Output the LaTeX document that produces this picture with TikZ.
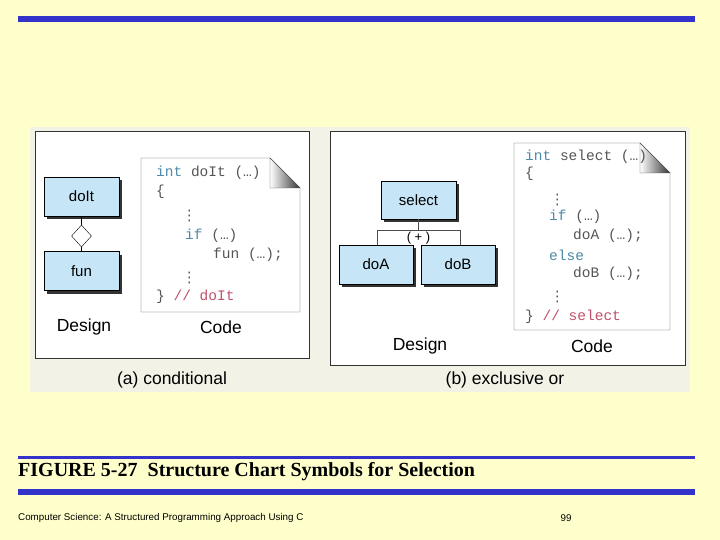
\documentclass[tikz,border=0pt]{standalone}
\usepackage{fontspec}
\setmainfont{Liberation Serif}
\setsansfont{Liberation Sans}
\setmonofont{Liberation Mono}
\newfontfamily\dvs{DejaVu Sans}
\newcommand{\vd}{{\dvs ⋮}}
\usetikzlibrary{shapes.geometric}
\definecolor{bg}{HTML}{FFFFCC}
\definecolor{bar}{HTML}{3333CC}
\definecolor{boxc}{HTML}{C6E6F8}
\definecolor{kw}{HTML}{4F8AA8}
\definecolor{cm}{HTML}{C0506A}
\definecolor{cd}{HTML}{555555}
\definecolor{pan}{HTML}{F2F2E6}
\begin{document}
\begin{tikzpicture}[x=1pt,y=-1pt,
  mod/.style={draw=black,fill=boxc,minimum width=75pt,minimum height=39pt,font=\sffamily\fontsize{15}{15}\selectfont,inner sep=0pt},
  shad/.style={fill=black!80},
  lbl/.style={font=\sffamily\fontsize{17.5}{17.5}\selectfont,inner sep=0pt},
  code/.style={font=\ttfamily\fontsize{14.5}{14.5}\selectfont,text=cd,anchor=west,inner sep=0pt},
  page/.style={draw=black!70,fill=white},
  conn/.style={draw=black!70,line width=1pt}]
\useasboundingbox (0,0) rectangle (720,540);
\fill[bg] (0,0) rectangle (720,540);
\fill[bar] (18,16) rectangle (695,22);
\fill[pan] (30,127) rectangle (690,392);
% panel a
\draw[black!80,fill=white,line width=0.8pt] (35,131) rectangle (309,358);
\fill[shad] (47,180) rectangle (122,219);
\node[mod] (doit) at (81.5,196.5) {doIt};
\fill[shad] (47,255) rectangle (122,294);
\node[mod] (fun) at (81.5,271) {fun};
\node[diamond,draw=black,fill=white,minimum width=20pt,minimum height=22pt,inner sep=0pt] (dia) at (81.5,236) {};
\draw[line width=1pt] (doit.south) -- (dia.north) (dia.south) -- (fun.north);
\draw[page] (141,158) -- (270,158) -- (300,188) -- (300,312) -- (141,312) -- cycle;
\shade[left color=white,right color=black!80,draw=black!70] (270,158) -- (270,188) -- (300,188) -- cycle;
\node[code] (a1) at (156,173) {\textcolor{kw}{int} doIt (…)};
\node[code] (a2) at (156,192) {\{};
\node[code] (a3) at (182,216) {\vd};
\node[code] (a4) at (185,236) {\textcolor{kw}{if} (…)};
\node[code] (a5) at (213,255) {fun (…);};
\node[code] (a6) at (182,278) {\vd};
\node[code] (a7) at (156,297) {\}  \textcolor{cm}{// doIt}};
\node[lbl] (da) at (84,327) {Design};
\node[lbl] (ca) at (221,327) {Code};
\node[lbl] (capa) at (172,380) {(a) conditional};
% panel b
\draw[black!80,fill=white,line width=0.8pt] (330,131) rectangle (685,365);
\fill[shad] (384,184) rectangle (459,222);
\node[mod,minimum height=38pt] (sel) at (418.5,200) {select};
\fill[shad] (342,248) rectangle (416,287);
\node[mod,minimum width=74pt] (doa) at (376,264.5) {doA};
\fill[shad] (424,248) rectangle (498,287);
\node[mod,minimum width=74pt] (dob) at (458,264.5) {doB};
\coordinate (j) at (418.5,231);
\draw[conn] (sel.south) -- (j);
\draw[conn] (j) -| (377,245);
\draw[conn] (j) -| (460,245);
\node[font=\sffamily\fontsize{13}{13}\selectfont,fill=white,inner sep=1pt] (plus) at (418.5,238) {( + )};
\draw[page] (514,143) -- (640,143) -- (670,173) -- (670,330) -- (514,330) -- cycle;
\shade[left color=white,right color=black!80,draw=black!70] (640,143) -- (640,173) -- (670,173) -- cycle;
\node[code] (b1) at (525,157) {\textcolor{kw}{int} select (…)};
\node[code] (b2) at (525,174) {\{};
\node[code] (b3) at (550,200) {\vd};
\node[code] (b4) at (549,217) {\textcolor{kw}{if} (…)};
\node[code] (b5) at (573,236) {doA (…);};
\node[code] (b6) at (549,255) {\textcolor{kw}{else}};
\node[code] (b7) at (573,274) {doB (…);};
\node[code] (b8) at (550,297) {\vd};
\node[code] (b9) at (525,317) {\}  \textcolor{cm}{// select}};
\node[lbl] (db) at (420,346) {Design};
\node[lbl] (cb) at (592,346) {Code};
\node[lbl] (capb) at (505,380) {(b) exclusive or};
% footer
\fill[bar] (18,456) rectangle (695,458.5);
\node[anchor=west,inner sep=0pt,font=\bfseries\fontsize{20}{20}\selectfont] (fig) at (18,472) {FIGURE 5-27\ \ Structure Chart Symbols for Selection};
\fill[bar] (18,488.5) rectangle (695,495);
\node[anchor=west,inner sep=0pt,font=\sffamily\fontsize{9.8}{9.8}\selectfont] (foot) at (18,518) {Computer Science: A Structured Programming Approach Using C};
\node[inner sep=0pt,font=\sffamily\fontsize{9.8}{9.8}\selectfont] (pg) at (566,518) {99};
\end{tikzpicture}
\end{document}
